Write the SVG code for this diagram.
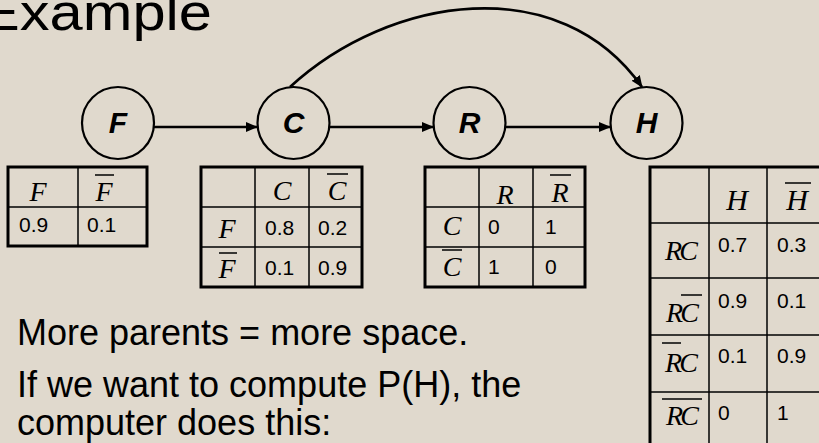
<svg xmlns="http://www.w3.org/2000/svg" width="819" height="443" viewBox="0 0 819 443">
<style>
.node circle{fill:none;stroke:#000;stroke-width:2.2}
.node text{font-family:"Liberation Sans",Arial,sans-serif;font-weight:bold;font-style:italic;font-size:30px;text-anchor:middle}
.edge{fill:none;stroke:#000;stroke-width:2.6}
.outer{fill:none;stroke:#000;stroke-width:3}
.grid{stroke:#000;stroke-width:1.5}
.v{font-family:"Liberation Serif","Times New Roman",serif;font-style:italic;font-size:28px;text-anchor:middle}
.vh{font-size:30px}
.n{font-family:"Liberation Sans",Arial,sans-serif;font-size:21px}
.bar{stroke:#000;stroke-width:1.5}
.body{font-family:"Liberation Sans",Arial,sans-serif;font-size:36px;fill:#000}
.title{font-family:"Liberation Sans",Arial,sans-serif;font-size:52px;fill:#000}
</style>
<defs>
<marker id="ah" markerWidth="12" markerHeight="10" refX="11" refY="5" orient="auto" markerUnits="userSpaceOnUse">
<path d="M0,0 L12,5 L0,10 z" fill="#000"/>
</marker>
</defs>
<rect width="819" height="443" fill="#E0D9CD"/>
<text class="title" x="-20" y="30" textLength="232" lengthAdjust="spacingAndGlyphs">Example</text>

<g id="connectors">
<line class="edge" x1="154" y1="127" x2="257" y2="127" marker-end="url(#ah)"/>
<line class="edge" x1="330" y1="127" x2="433" y2="127" marker-end="url(#ah)"/>
<line class="edge" x1="506" y1="127" x2="610" y2="127" marker-end="url(#ah)"/>
<path class="edge" d="M290,87 C390,-5 560,-30 642,87" marker-end="url(#ah)"/>
</g>

<g id="node-F" class="node"><circle cx="118" cy="123" r="36"/><text x="118" y="133">F</text></g>
<g id="node-C" class="node"><circle cx="293.5" cy="123" r="36"/><text x="293.5" y="133">C</text></g>
<g id="node-R" class="node"><circle cx="469.5" cy="123" r="36"/><text x="469.5" y="133">R</text></g>
<g id="node-H" class="node"><circle cx="646.5" cy="123" r="36"/><text x="646.5" y="133">H</text></g>

<g id="table-F">
<rect class="outer" x="8" y="167" width="139" height="79"/>
<line class="grid" x1="78" y1="167" x2="78" y2="246"/>
<line class="grid" x1="8" y1="207" x2="147" y2="207"/>
<text class="v" x="38" y="201">F</text>
<text class="v" x="104" y="201">F</text><line class="bar" x1="95" y1="175" x2="114" y2="175"/>
<text class="n" x="19" y="232">0.9</text>
<text class="n" x="87" y="232">0.1</text>
</g>

<g id="table-C">
<rect class="outer" x="201" y="167" width="161" height="120"/>
<line class="grid" x1="255" y1="167" x2="255" y2="287"/>
<line class="grid" x1="309" y1="167" x2="309" y2="287"/>
<line class="grid" x1="201" y1="207" x2="362" y2="207"/>
<line class="grid" x1="201" y1="247" x2="362" y2="247"/>
<text class="v" x="282" y="200">C</text>
<text class="v" x="337" y="200">C</text><line class="bar" x1="327" y1="174" x2="348" y2="174"/>
<text class="v" x="227" y="238">F</text>
<text class="v" x="227" y="278">F</text><line class="bar" x1="219" y1="253" x2="237" y2="253"/>
<text class="n" x="265" y="235">0.8</text>
<text class="n" x="318" y="235">0.2</text>
<text class="n" x="265" y="275">0.1</text>
<text class="n" x="318" y="275">0.9</text>
</g>

<g id="table-R">
<rect class="outer" x="425" y="167" width="160" height="120"/>
<line class="grid" x1="479" y1="167" x2="479" y2="287"/>
<line class="grid" x1="533" y1="167" x2="533" y2="287"/>
<line class="grid" x1="425" y1="207" x2="585" y2="207"/>
<line class="grid" x1="425" y1="247" x2="585" y2="247"/>
<text class="v" x="505" y="204">R</text>
<text class="v" x="560" y="202">R</text><line class="bar" x1="550" y1="175" x2="571" y2="175"/>
<text class="v" x="452" y="235">C</text>
<text class="v" x="452" y="276">C</text><line class="bar" x1="442" y1="250" x2="462" y2="250"/>
<text class="n" x="488" y="234">0</text>
<text class="n" x="545" y="234">1</text>
<text class="n" x="488" y="274">1</text>
<text class="n" x="545" y="274">0</text>
</g>

<g id="table-H">
<rect class="outer" x="650" y="167" width="176" height="282"/>
<line class="grid" x1="709" y1="167" x2="709" y2="449"/>
<line class="grid" x1="767" y1="167" x2="767" y2="449"/>
<line class="grid" x1="650" y1="223" x2="826" y2="223"/>
<line class="grid" x1="650" y1="278" x2="826" y2="278"/>
<line class="grid" x1="650" y1="335" x2="826" y2="335"/>
<line class="grid" x1="650" y1="392" x2="826" y2="392"/>
<text class="v vh" x="737" y="210">H</text>
<text class="v vh" x="797" y="210">H</text><line class="bar" x1="785" y1="183" x2="811" y2="183"/>
<text class="v" x="680" y="260" letter-spacing="-3">RC</text>
<text class="v" x="681" y="322" letter-spacing="-3">RC</text><line class="bar" x1="681" y1="295" x2="702" y2="295"/>
<text class="v" x="680" y="372" letter-spacing="-3">RC</text><line class="bar" x1="662" y1="343" x2="681" y2="343"/>
<text class="v" x="681" y="425" letter-spacing="-3">RC</text><line class="bar" x1="662" y1="399" x2="702" y2="399"/>
<text class="n" x="718" y="252">0.7</text>
<text class="n" x="777" y="252">0.3</text>
<text class="n" x="718" y="308">0.9</text>
<text class="n" x="777" y="308">0.1</text>
<text class="n" x="718" y="363">0.1</text>
<text class="n" x="777" y="363">0.9</text>
<text class="n" x="718" y="420">0</text>
<text class="n" x="777" y="420">1</text>
</g>

<text class="body" x="17" y="345">More parents = more space.</text>
<text class="body" x="17" y="397">If we want to compute P(H), the</text>
<text class="body" x="17" y="435">computer does this:</text>
</svg>
